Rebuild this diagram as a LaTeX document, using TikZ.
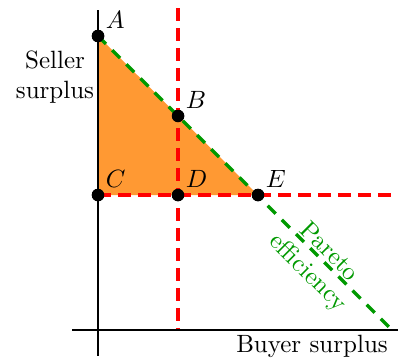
\documentclass[tikz,border=0pt]{standalone}
\begin{document}
\begin{tikzpicture}[x=0.4pt,y=-0.4pt,
  dot/.style={circle,fill=black,inner sep=0pt,minimum size=5pt},
  lbl/.style={inner sep=1pt,anchor=south west},
  axis/.style={line width=0.8pt},
  reddash/.style={red,line width=1.3pt,dash pattern=on 5pt off 3pt},
  greendash/.style={green!60!black,line width=1.3pt,dash pattern=on 4.5pt off 3.5pt}]
\useasboundingbox (0,0) rectangle (410,360);
\coordinate (xl) at (72,330);
\coordinate (xr) at (398,330);
\coordinate (yt) at (98,10);
\coordinate (yb) at (98,356);
\coordinate (vt) at (178,8);
\coordinate (vb) at (178,330);
\coordinate (hr) at (395,195);
\coordinate (ge) at (392,330);
\node[dot] (A) at (98,36) {};
\node[dot] (B) at (178,116) {};
\node[dot] (C) at (98,195) {};
\node[dot] (D) at (178,195) {};
\node[dot] (E) at (258,195) {};
\fill[orange!80] (A.center) -- (C.center) -- (E.center) -- cycle;
\draw[reddash] (vt) -- (vb);
\draw[reddash] (C.center) -- (hr);
\draw[greendash] (A.center) -- (ge);
\draw[axis] (xl) -- (xr);
\draw[axis] (yt) -- (yb);
\foreach \n in {A,B,C,D,E} \node[dot] at (\n) {};
\node[lbl] at (A.north east) {$A$};
\node[lbl] at (B.north east) {$B$};
\node[lbl] at (C.north east) {$C$};
\node[lbl] at (D.north east) {$D$};
\node[lbl] at (E.north east) {$E$};
\node[align=center,inner sep=0pt] (seller) at (55,77) {Seller\\surplus};
\node[inner sep=0pt] (buyer) at (312,346) {Buyer surplus};
\node[align=center,inner sep=0pt,rotate=-45,text=green!60!black] (pareto) at (318,263) {Pareto\\efficiency};
\end{tikzpicture}
\end{document}
